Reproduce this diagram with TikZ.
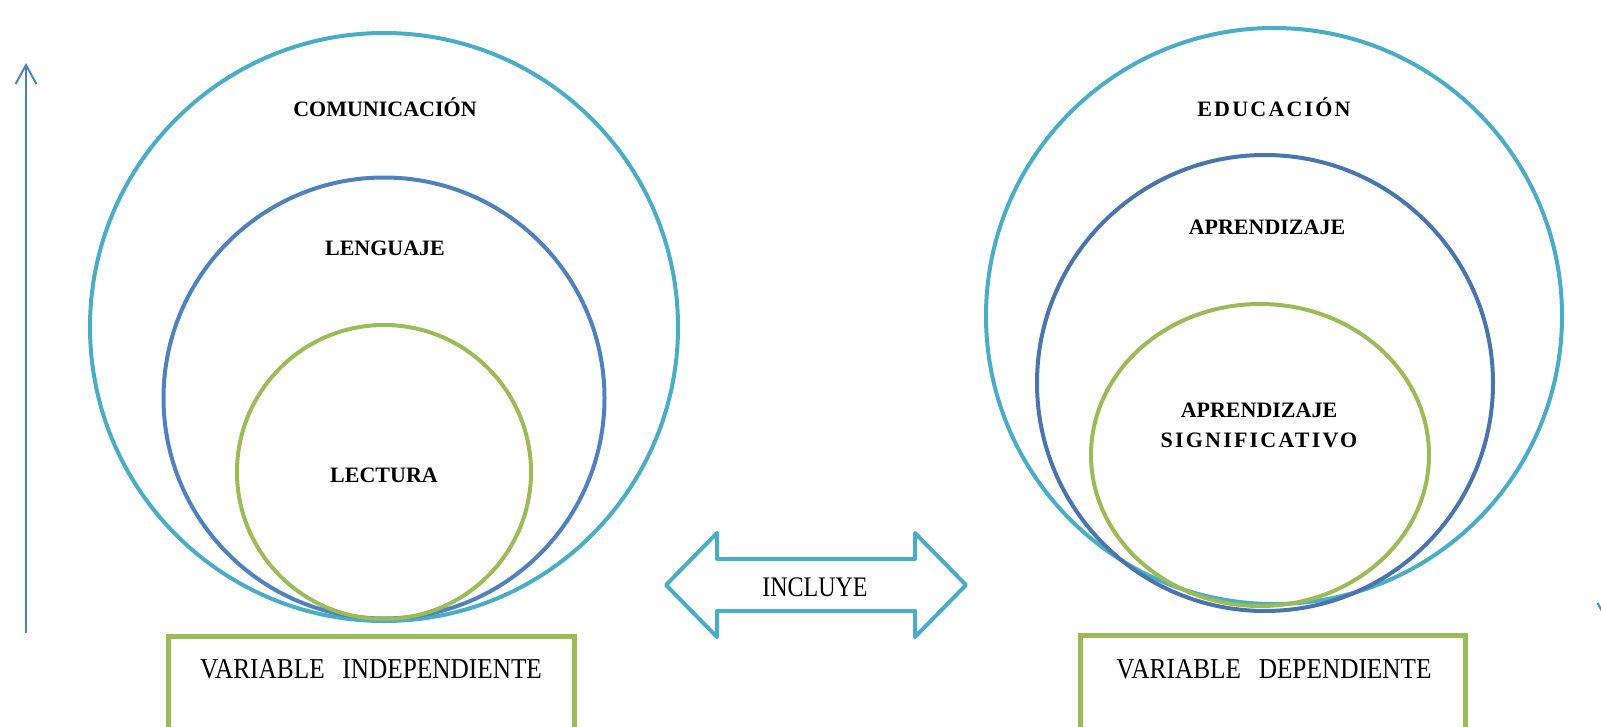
\documentclass[tikz,border=0pt]{standalone}
\usepackage{fontspec}
\setmainfont{Liberation Serif}
\usetikzlibrary{arrows.meta}
\definecolor{teal}{HTML}{4BACC6}
\definecolor{blu}{HTML}{4F81BD}
\definecolor{blud}{HTML}{4A74AC}
\definecolor{grn}{HTML}{9BBB59}
\tikzset{
  ring/.style={draw=#1, line width=4pt, circle, inner sep=0pt},
  lbl/.style={font=\fontsize{22}{30}\selectfont\bfseries, align=center, inner sep=0pt},
  plain/.style={font=\fontsize{24}{28}\selectfont, inner sep=0pt},
  varbox/.style={draw=grn, line width=5pt},
  axis/.style={draw=blu, line width=2pt, -{Straight Barb[length=19pt,width=21pt,line width=2pt]}},
}
\begin{document}
\begin{tikzpicture}[x=1pt,y=-1pt]
\useasboundingbox (0,0) rectangle (1601,727);
% left circles
\node[ring=teal, minimum size=588pt] (comC) at (384,327) {};
\node[ring=blu, minimum size=441pt] (lenC) at (384,398) {};
\node[ring=grn, minimum size=294pt] (lecC) at (384,472) {};
% right circles
\node[ring=teal, minimum size=576pt] (eduC) at (1274,316) {};
\node[ring=blud, minimum size=456pt] (aprC) at (1265,383) {};
\draw[draw=grn, line width=4pt] (1260,455) ellipse [x radius=169pt, y radius=151pt];
% labels
\node[lbl] (com) at (385,107) {COMUNICACIÓN};
\node[lbl] (len) at (385,248) {LENGUAJE};
\node[lbl] (lec) at (384,475) {LECTURA};
\node[lbl] (edu) at (1274,107) {\addfontfeature{LetterSpace=10}EDUCACIÓN};
\node[lbl] (apr) at (1267,227) {APRENDIZAJE};
\node[lbl] (aps) at (1259,425) {APRENDIZAJE\\\addfontfeature{LetterSpace=10}SIGNIFICATIVO};
% double arrow
\draw[draw=teal, line width=4pt, line join=round, fill=white]
  (666,585) -- (717,533) -- (717,559) -- (915,559) -- (915,533) -- (966,585)
  -- (915,637) -- (915,611) -- (717,611) -- (717,637) -- cycle;
\node[plain] (inc) at (815,587) {\scalebox{1}[1.18]{INCLUYE}};
% boxes
\draw[varbox] (168,636) rectangle (574,740);
\node[plain, font=\fontsize{25.3}{28}\selectfont] (vi) at (371,669) {\scalebox{1}[1.14]{VARIABLE\hspace{0.7em}INDEPENDIENTE}};
\draw[varbox] (1080,635) rectangle (1465,740);
\node[plain, font=\fontsize{25.3}{28}\selectfont] (vd) at (1274,669) {\scalebox{1}[1.14]{VARIABLE\hspace{0.7em}DEPENDIENTE}};
% axes
\coordinate (a0) at (26,633);
\coordinate (a1) at (26,63);
\draw[axis] (a0) -- (a1);
\coordinate (b0) at (1608,66);
\coordinate (b1) at (1608,624);
\draw[axis] (b0) -- (b1);
\end{tikzpicture}
\end{document}
